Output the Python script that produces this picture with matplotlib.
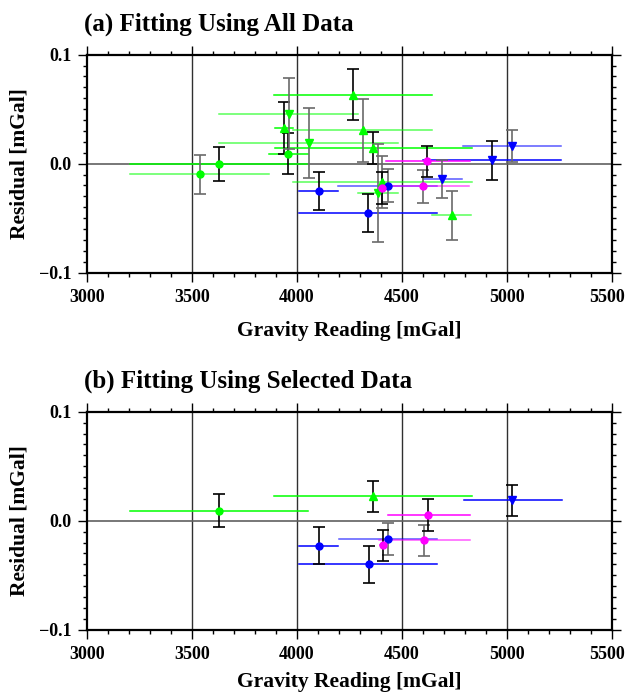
import numpy as np
import matplotlib
matplotlib.use("Agg")
import matplotlib.pyplot as plt
from matplotlib.ticker import MultipleLocator, FixedLocator, FuncFormatter

plt.rcParams['font.family'] = ['Liberation Serif', 'DejaVu Serif']
plt.rcParams['font.weight'] = 'bold'

# ---- (a) all data ----
# group: gc green circle, gu green up-tri, gd green down-tri,
#        bc blue circle, bd blue down-tri, mc magenta circle
a_group = ['gc', 'gc', 'gc', 'gu', 'gu', 'gu', 'gu', 'gu', 'gu', 'gd', 'gd', 'gd',
           'bc', 'bc', 'bc', 'bd', 'bd', 'bd', 'mc', 'mc', 'mc']
a_grav = [3536, 3630, 3959, 3937, 4267, 4314, 4364, 4407, 4738, 3960, 4056, 4386,
          4103, 4340, 4433, 4692, 4929, 5024, 4405, 4603, 4622]
a_resid = [-0.0098, -0.0006, 0.0092, 0.0327, 0.0633, 0.0306, 0.0144, -0.0171, -0.0474,
           0.0460, 0.0190, -0.0272, -0.0248, -0.0452, -0.0202, -0.0140, 0.0030, 0.0165,
           -0.0223, -0.0208, 0.0021]
a_err = [0.018, 0.0155, 0.019, 0.0237, 0.0236, 0.029, 0.0145, 0.0238, 0.0225,
         0.0326, 0.0317, 0.045, 0.0176, 0.0176, 0.0153, 0.0176, 0.0176, 0.0145,
         0.015, 0.0152, 0.0145]
a_rmin = [3203, 3203, 3867, 3893, 3890, 3981, 3894, 3981, 4645, 3628, 3628, 4290,
          4010, 4010, 4197, 4600, 4600, 4791, 4395, 4450, 4426]
a_rmax = [3865, 4050, 4052, 3981, 4646, 4646, 4834, 4834, 4830, 4290, 4480, 4480,
          4195, 4670, 4667, 4788, 5259, 5259, 4420, 4822, 4826]
a_repeat = [1, 0, 0, 0, 0, 1, 0, 1, 1, 1, 1, 1, 0, 0, 1, 1, 0, 1, 0, 1, 0]

# ---- (b) selected data ----
b_group = ['gc', 'gu', 'bc', 'bc', 'bc', 'mc', 'mc', 'mc', 'bd']
b_grav = [3630, 4363, 4103, 4342, 4436, 4408, 4607, 4626, 5027]
b_resid = [0.0091, 0.0223, -0.0229, -0.0400, -0.0168, -0.0226, -0.0180, 0.0049, 0.0186]
b_err = [0.015, 0.0145, 0.0172, 0.0172, 0.015, 0.0145, 0.0143, 0.0148, 0.0143]
b_rmin = [3203, 3890, 4008, 4008, 4201, 4395, 4389, 4432, 4795]
b_rmax = [4054, 4834, 4198, 4670, 4670, 4420, 4826, 4826, 5264]
b_repeat = [0, 0, 0, 0, 1, 0, 1, 0, 0]

style = {
    'gc': ('#00ff00', 'o', 5.0),
    'gu': ('#00ff00', '^', 6.0),
    'gd': ('#00ff00', 'v', 6.0),
    'bc': ('#0000ff', 'o', 5.0),
    'bd': ('#0000ff', 'v', 6.0),
    'mc': ('#ff00ff', 'o', 5.0),
}

W, H = 627, 693
fig = plt.figure(figsize=(W / 100, H / 100), dpi=100)

TICK_FS = 13
MAJ_LEN, PAD = 6.5, 5


def fmt_y(v, pos):
    if abs(v) < 1e-9:
        return '0.0'
    return ('\u22120.1' if v < 0 else '0.1')


def fmt_x(v, pos):
    # last label is drawn separately, nudged inside the figure
    return '' if v >= 5500 else '%d' % v


def panel(rect, title, group, grav, resid, err, rmin, rmax, repeat, xpad):
    ax = fig.add_axes(rect)
    ax.set_xlim(3000, 5500)
    ax.set_ylim(-0.1, 0.1)

    for gx in [3500, 4000, 4500, 5000]:
        ax.axvline(gx, color='#303030', lw=1.0, zorder=1)
    ax.axhline(0, color='#606060', lw=1.2, zorder=1)

    for i in range(len(grav)):
        col, mk, ms = style[group[i]]
        alpha = 0.65 if repeat[i] else 1.0
        ecol = '#6a6a6a' if repeat[i] else 'black'
        ax.plot([rmin[i], rmax[i]], [resid[i], resid[i]], color=col, lw=1.1,
                alpha=alpha, zorder=2)
        ax.errorbar(grav[i], resid[i], yerr=err[i], fmt='none', ecolor=ecol,
                    elinewidth=1.2, capsize=4, capthick=1.2, zorder=3)
        ax.plot(grav[i], resid[i], marker=mk, ms=ms, color=col, ls='none', zorder=4)

    ax.xaxis.set_major_locator(MultipleLocator(500))
    ax.xaxis.set_minor_locator(MultipleLocator(100))
    ax.xaxis.set_major_formatter(FuncFormatter(fmt_x))
    ax.yaxis.set_major_locator(FixedLocator([-0.1, 0.0, 0.1]))
    ax.yaxis.set_minor_locator(MultipleLocator(0.01))
    ax.yaxis.set_major_formatter(FuncFormatter(fmt_y))
    ax.tick_params(which='both', direction='out', top=True, right=True,
                   labeltop=False, labelright=False, width=1.0)
    ax.tick_params(which='major', length=MAJ_LEN, labelsize=TICK_FS, pad=PAD)
    ax.tick_params(which='minor', length=3.2)
    for lbl in ax.get_xticklabels() + ax.get_yticklabels():
        lbl.set_fontweight('bold')
    for s in ax.spines.values():
        s.set_linewidth(1.6)
    ax.annotate('5500', xy=(5500, 0), xycoords=('data', 'axes fraction'),
                xytext=(-3, -(MAJ_LEN + PAD)), textcoords='offset points',
                ha='center', va='top', fontsize=TICK_FS, fontweight='bold',
                annotation_clip=False)

    ax.set_xlabel('Gravity Reading [mGal]', fontsize=15.5, fontweight='bold',
                  labelpad=xpad)
    ax.set_ylabel('Residual [mGal]', fontsize=15.5, fontweight='bold', labelpad=7)
    fig.text(rect[0] - 0.006, rect[1] + rect[3] + 24 / H, title, fontsize=18,
             fontweight='bold', ha='left', va='baseline')
    return ax


panel([87.3 / W, 1 - 272.7 / H, 524.2 / W, 218 / H], '(a) Fitting Using All Data',
      a_group, a_grav, a_resid, a_err, a_rmin, a_rmax, a_repeat, 11)
panel([87.3 / W, 1 - 629.7 / H, 524.2 / W, 218 / H], '(b) Fitting Using Selected Data',
      b_group, b_grav, b_resid, b_err, b_rmin, b_rmax, b_repeat, 7)

fig.savefig('out.png', dpi=100)
